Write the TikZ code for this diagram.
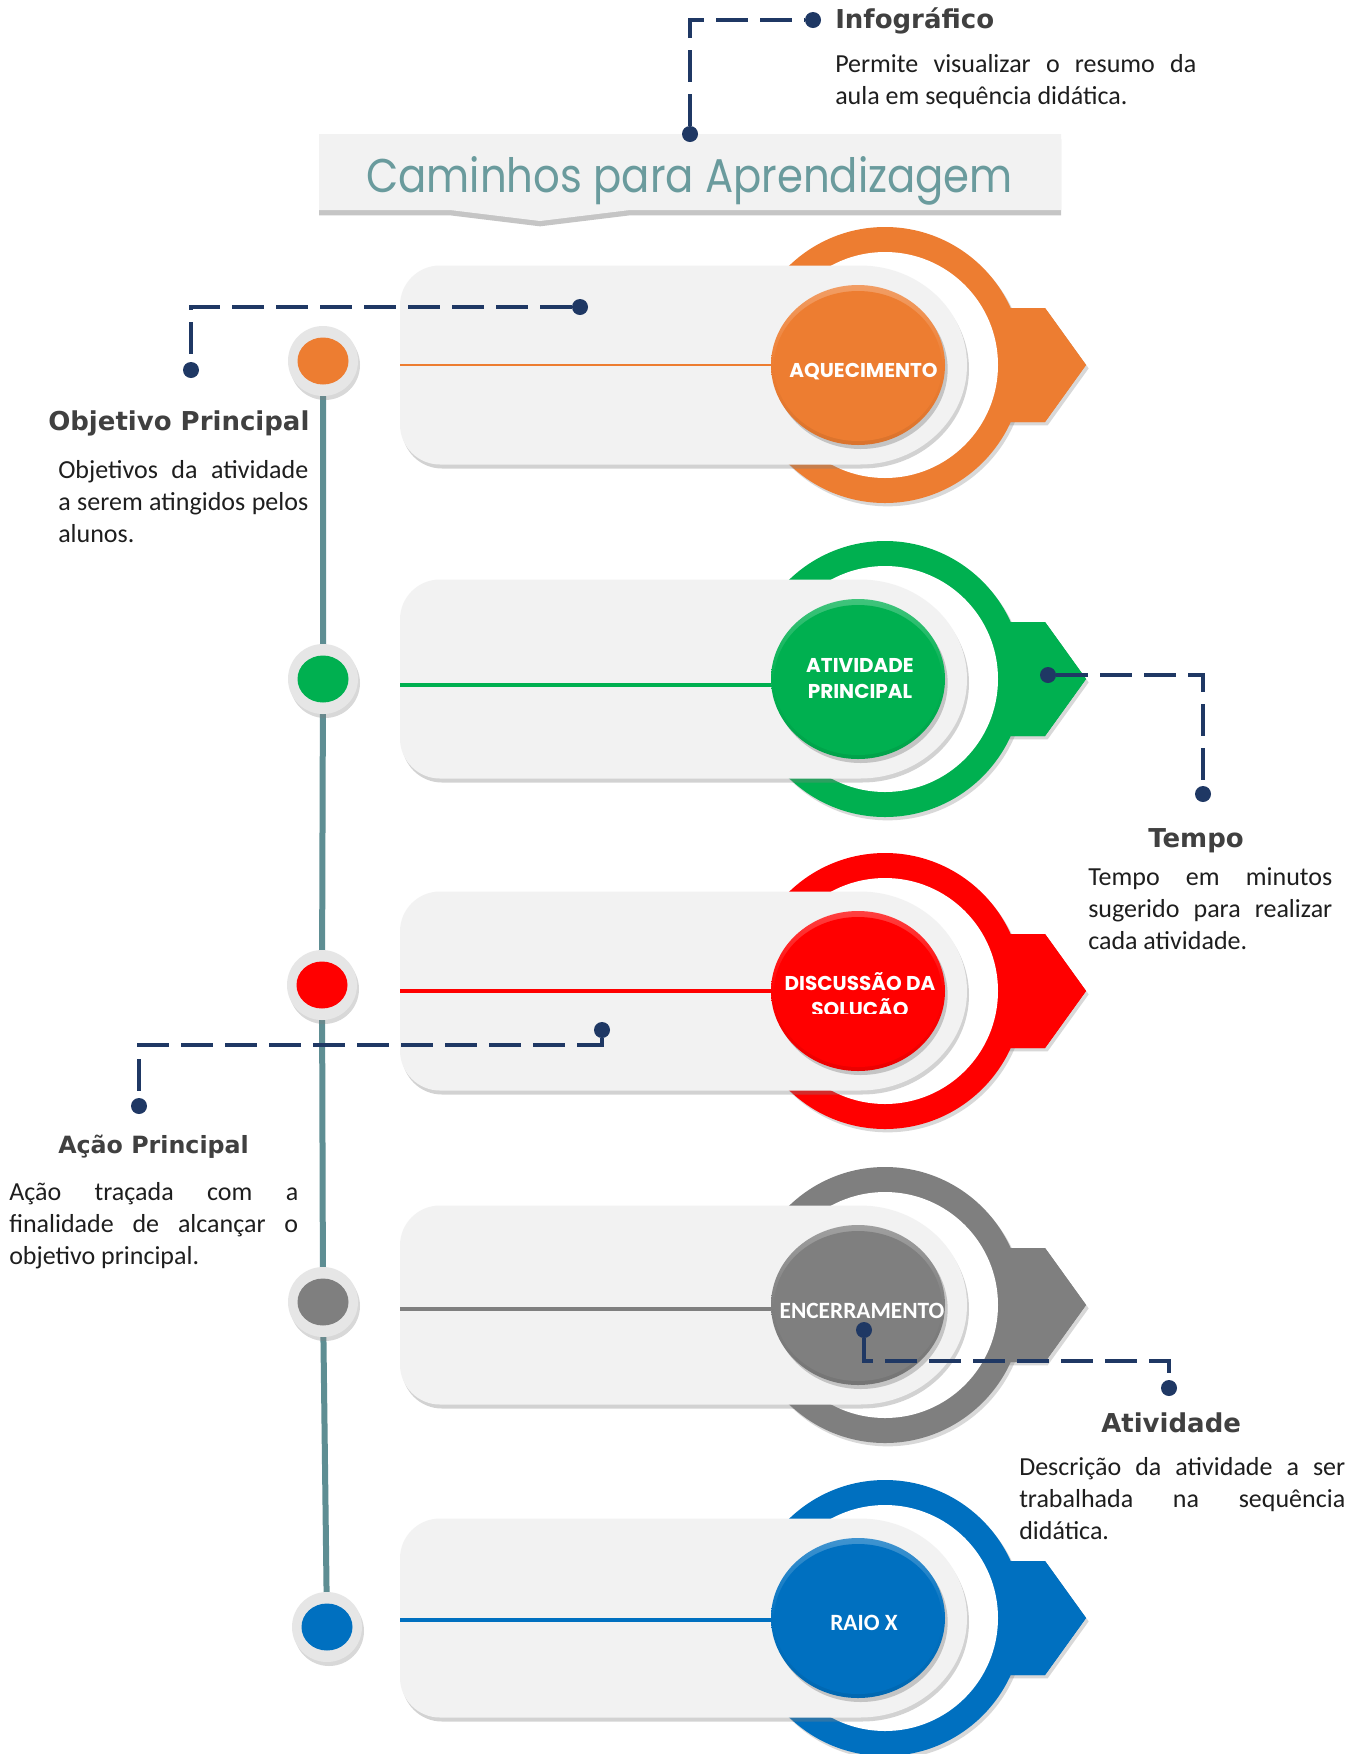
\documentclass[tikz,border=0pt]{standalone}
\usepackage{fontspec}
\setmainfont{Carlito}
\newfontfamily\headfont{DejaVu Sans}
\newfontfamily\popfont{Poppins}
\newfontfamily\calfont{Carlito}
\usetikzlibrary{shadows}
\definecolor{cOrange}{HTML}{ED7D31}
\definecolor{cGreen}{HTML}{00B050}
\definecolor{cRed}{HTML}{FF0000}
\definecolor{cGray}{HTML}{7F7F7F}
\definecolor{cBlue}{HTML}{0070C0}
\definecolor{panelc}{HTML}{F2F2F2}
\definecolor{navy}{HTML}{1F3864}
\definecolor{tealc}{HTML}{5E8E93}
\definecolor{titlec}{HTML}{6A9B9D}
\definecolor{headc}{HTML}{404040}
\definecolor{bodyc}{HTML}{1E1E1E}
\definecolor{dotbg}{HTML}{E6E6E6}
\newcommand\jl[2]{\hbox to #1{#2}}
\newcommand\cl[1]{\hbox to 0pt{\hss#1\hss}}
\newcommand\rowshape[4]{%
\begin{scope}[shift={(0,-#1)}]
 \path[fill=#2, shd] (880,57) -- (1045,57) -- (1086,0) -- (1045,-57) -- (880,-57) -- cycle;
 \path[fill=#2, shd] (885,0) circle[radius=138];
 \fill[#2] (880,57) -- (1045,57) -- (1086,0) -- (1045,-57) -- (880,-57) -- cycle;
 \fill[white] (885,0) circle[radius=113];
 \path[fill=panelc, drop shadow={opacity=.35,shadow xshift=1.5pt,shadow yshift=-3pt}] (860,99.5) -- (440,99.5) arc[start angle=90,end angle=180,radius=40] -- (400,-59.5) arc[start angle=180,end angle=270,radius=40] -- (860,-99.5) arc[start angle=-90,end angle=90,x radius=107,y radius=99.5] -- cycle;
 \path[drop shadow={opacity=.4,shadow xshift=2pt,shadow yshift=-3pt}, top color=#2!75!white, bottom color=#2!92!black, middle color=#2] (858,0) ellipse[x radius=87,y radius=80];
 \fill[#2] (858,-1) ellipse[x radius=84,y radius=75];
 \draw[#2, line width=#3] (400,{-#4}) -- (771,{-#4});
\end{scope}}
\begin{document}
\begin{tikzpicture}[x=0.75pt,y=0.75pt,
  shd/.style={drop shadow={opacity=.3,shadow xshift=2pt,shadow yshift=-2.5pt}},
  tdot/.style={circle, fill=dotbg, minimum size=52.5pt, inner sep=0, drop shadow={opacity=.3,shadow xshift=1.5pt,shadow yshift=-3pt}},
  cdot/.style={circle, fill=navy, minimum size=12pt, inner sep=0},
  conn/.style={navy, line width=2.5pt, dash pattern=on 24pt off 9pt},
  timeline/.style={tealc, line width=4.5pt},
  head/.style={font=\headfont\bfseries\fontsize{19.5}{24}\selectfont, text=headc, inner sep=0, anchor=base west},
  body/.style={font=\calfont\fontsize{19.5}{24}\selectfont, text=bodyc, inner sep=0, anchor=base west},
  lbl/.style={text=white, inner sep=0, anchor=base},
  popl/.style={lbl, font=\popfont\bfseries\fontsize{15}{19.5}\selectfont},
  call/.style={lbl, font=\calfont\bfseries\fontsize{17.5}{21}\selectfont}]
\useasboundingbox (0,0) rectangle (1366,-1754);
\fill[white] (0,0) rectangle (1366,-1754);

% title banner
\path[fill=panelc, drop shadow={opacity=.45,shadow xshift=0pt,shadow yshift=-4pt}] (319,-134) -- (1061,-134) -- (1061,-210) -- (630,-210) -- (540,-221) -- (450,-210) -- (319,-210) -- cycle;
\node[anchor=base west, inner sep=0, text=titlec] (title) at (366,-192) {\resizebox{485pt}{27pt}{\popfont Caminhos para Aprendizagem}};

% rows
\rowshape{365}{cOrange}{1.2pt}{0}
\rowshape{679}{cGreen}{2.5pt}{6}
\rowshape{991}{cRed}{2.5pt}{0}
\rowshape{1305}{cGray}{2.5pt}{4}
\rowshape{1618}{cBlue}{2.5pt}{2}

% button labels
\node[popl] (lb1) at (863.5,-377) {AQUECIMENTO};
\node[popl] (lb2) at (860,-672) {\vtop{\cl{ATIVIDADE}\cl{PRINCIPAL}}};
\begin{scope}
\clip (760,-900) rectangle (960,-1013.5);
\node[popl] (lb3) at (860,-990) {\vtop{\cl{DISCUSSÃO DA}\cl{SOLUÇÃO}}};
\end{scope}
\node[call] (lb4) at (862,-1318) {ENCERRAMENTO};
\node[call] (lb5) at (864,-1630) {RAIO X};

% timeline
\coordinate (p1) at (323,-361);
\coordinate (p2) at (323,-679);
\coordinate (p3) at (322,-985);
\coordinate (p4) at (323,-1302);
\coordinate (p5) at (327,-1627);
\draw[timeline] (p1) -- (p2) -- (p3) -- (p4) -- (p5);
\foreach \p/\c in {p1/cOrange,p2/cGreen,p3/cRed,p4/cGray,p5/cBlue}{
  \node[tdot] at (\p) {};
  \fill[\c] (\p) ellipse[x radius=25.5,y radius=23.5];
}

% connectors
\node[cdot] (i1) at (690,-134) {};
\node[cdot] (i2) at (813,-20) {};
\draw[conn] (i1) |- (i2);
\node[cdot] (o1) at (580,-307) {};
\node[cdot] (o2) at (191,-370) {};
\draw[conn] (o1) -| (o2);
\node[cdot] (t1) at (1048,-675) {};
\node[cdot] (t2) at (1203,-794) {};
\draw[conn] (t1) -| (t2);
\node[cdot] (a1) at (602,-1030) {};
\coordinate (ac) at (139,-1045);
\node[cdot] (a2) at (139,-1106) {};
\draw[conn] (a1) |- (ac) -- (a2);
\node[cdot] (v1) at (864,-1330) {};
\coordinate (vc) at (1169,-1361);
\node[cdot] (v2) at (1169,-1388) {};
\draw[conn] (v1) |- (vc) -- (v2);

% texts
\node[head] (h1) at (835,-28) {Infográfico};
\node[body] (b1) at (835,-72) {\vtop{\jl{270.75pt}{Permite visualizar o resumo da}\hbox{aula em sequência didática.}}};
\node[head] (h2) at (48,-430) {Objetivo Principal};
\node[body] (b2) at (58,-478) {\vtop{\jl{187.5pt}{Objetivos da atividade}\jl{187.5pt}{a serem atingidos pelos}\hbox{alunos.}}};
\node[head] (h3) at (1148,-847) {Tempo};
\node[body] (b3) at (1088,-885) {\vtop{\jl{183pt}{Tempo em minutos}\jl{183pt}{sugerido para realizar}\hbox{cada atividade.}}};
\node[head, font=\headfont\bfseries\fontsize{17.8}{22}\selectfont] (h4) at (58,-1153) {Ação Principal};
\node[body] (b4) at (9,-1200) {\vtop{\jl{216.75pt}{Ação traçada com a}\jl{216.75pt}{finalidade de alcançar o}\hbox{objetivo principal.}}};
\node[head] (h5) at (1101,-1432) {Atividade};
\node[body] (b5) at (1019,-1475) {\vtop{\jl{244.5pt}{Descrição da atividade a ser}\jl{244.5pt}{trabalhada na sequência}\hbox{didática.}}};
\end{tikzpicture}
\end{document}
